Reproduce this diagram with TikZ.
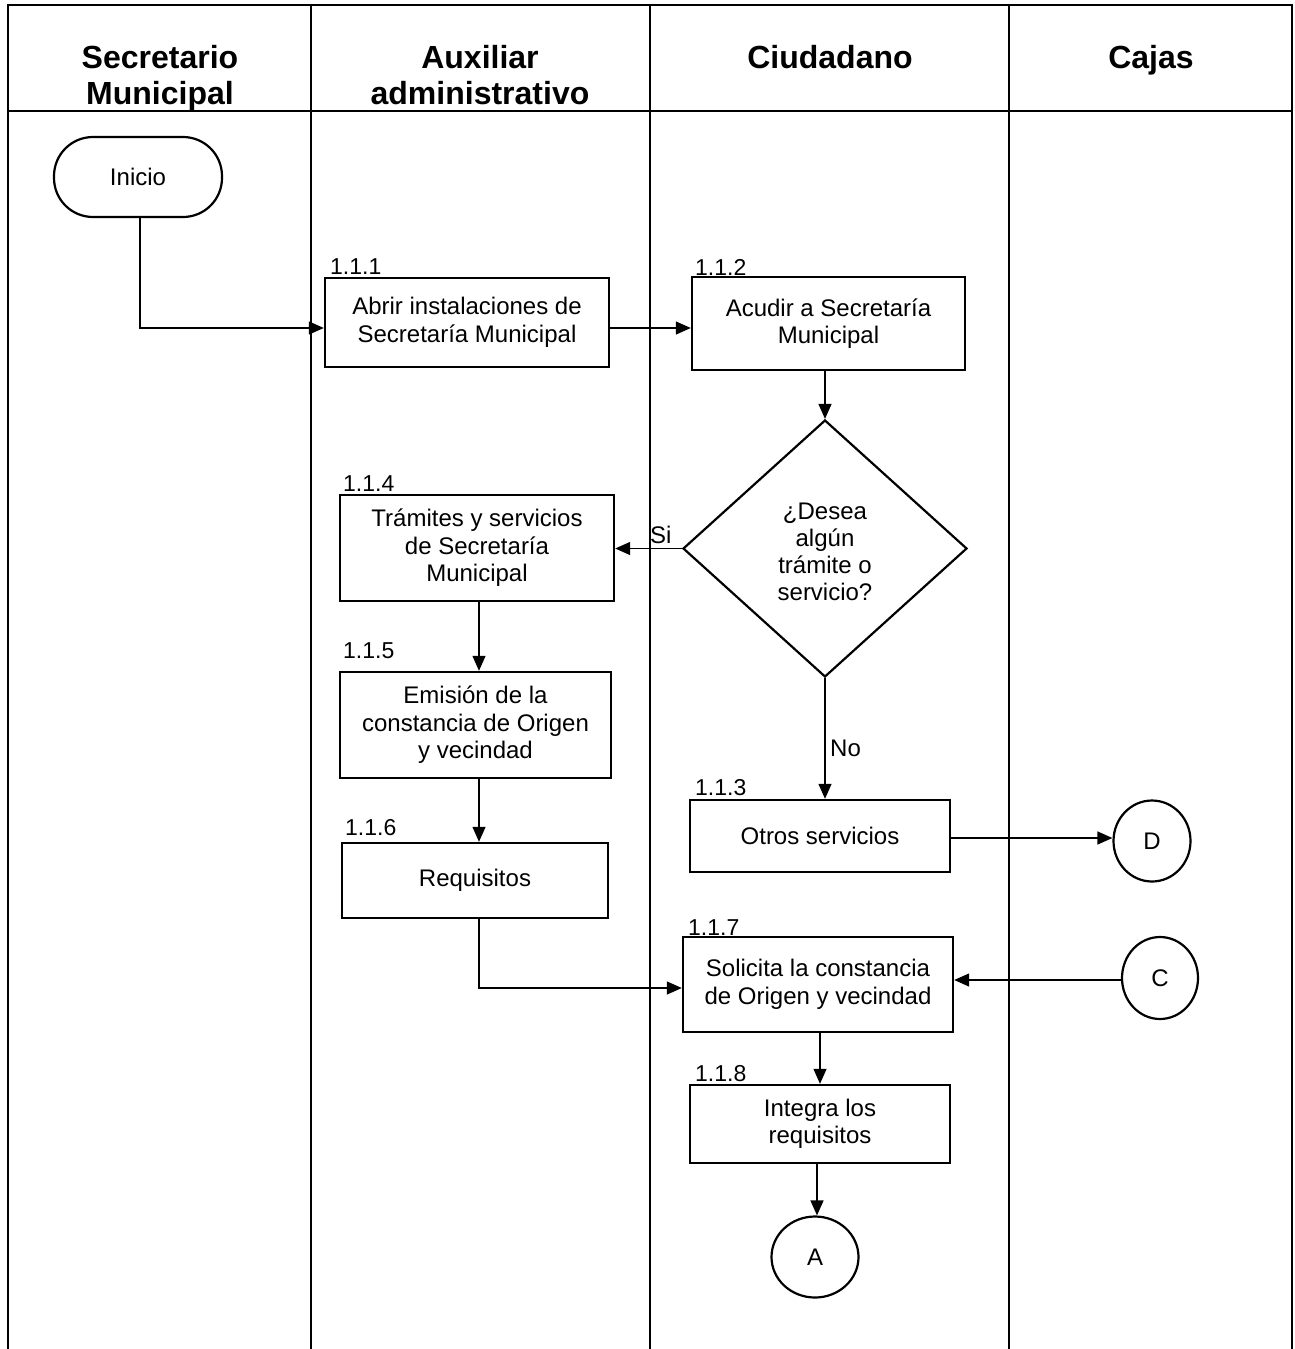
\documentclass[tikz,border=0pt]{standalone}
\usepackage{fontspec}
\setmainfont{Liberation Sans}
\usetikzlibrary{arrows.meta,calc,shapes.geometric}
\begin{document}
\begin{tikzpicture}[x=1pt,y=-1pt,
  frame/.style={line width=2.2pt},
  boxst/.style={draw,line width=2.4pt,rectangle,inner sep=0pt,align=center,
    font=\fontsize{24}{27.5}\selectfont},
  numlbl/.style={anchor=base west,inner sep=0pt,font=\fontsize{23}{26}\selectfont},
  head/.style={align=center,anchor=north,inner sep=0pt,font=\fontsize{32}{36}\bfseries\selectfont},
  conn/.style={line width=1.3pt},
  arr/.style={conn,-{Triangle[length=15pt,width=13pt]}},
  circ/.style={draw,ellipse,line width=2.2pt,inner sep=0pt,font=\fontsize{24}{27}\selectfont},
  txt/.style={inner sep=0pt,font=\fontsize{24}{27}\selectfont}
]
\useasboundingbox (0,0) rectangle (1294,1349);
% frame
\draw[frame] (8,1349) -- (8,5) -- (1292,5) -- (1292,1349);
\draw[frame] (8,111) -- (1292,111);
\foreach \x in {311,650,1009} \draw[frame] (\x,5) -- (\x,1349);
% headers
\node[head] (h1) at (160,43.5) {\strut Secretario\\\strut Municipal};
\node[head] (h2) at (480,43.5) {\strut Auxiliar\\\strut administrativo};
\node[head] (h3) at (830,43.5) {\strut Ciudadano};
\node[head] (h4) at (1151,43.5) {\strut Cajas};
% start
\node[draw,line width=2.2pt,rounded corners=39pt,minimum width=168pt,minimum height=80pt,
  inner sep=0pt,font=\fontsize{24}{27}\selectfont] (ini) at (138,177) {Inicio};
% boxes
\node[boxst,minimum width=284pt,minimum height=89pt] (b1) at (467,322.5) {Abrir instalaciones de\\Secretaría Municipal};
\node[boxst,minimum width=273pt,minimum height=93pt] (b2) at (828.5,323.5) {Acudir a Secretaría\\Municipal};
\node[draw,diamond,line width=2.2pt,minimum width=284pt,minimum height=257pt,inner sep=0pt] (dia) at (825,548.5) {};
\node[txt,align=center] (dt) at (825,552) {¿Desea\\algún\\trámite o\\servicio?};
\node[boxst,minimum width=274pt,minimum height=106pt] (b4) at (477,548) {Trámites y servicios\\de Secretaría\\Municipal};
\node[boxst,minimum width=271pt,minimum height=106pt] (b5) at (475.5,725) {Emisión de la\\constancia de Origen\\y vecindad};
\node[boxst,minimum width=266pt,minimum height=75pt] (b6) at (475,880.5) {Requisitos};
\node[boxst,minimum width=260pt,minimum height=72pt] (b3) at (820,836) {Otros servicios};
\node[boxst,minimum width=270pt,minimum height=95pt] (b7) at (818,984.5) {Solicita la constancia\\de Origen y vecindad};
\node[boxst,minimum width=260pt,minimum height=78pt] (b8) at (820,1124) {Integra los\\requisitos};
% connectors circles
\node[circ,minimum width=77pt,minimum height=81pt] (D) at (1152,841) {D};
\node[circ,minimum width=76pt,minimum height=82pt] (C) at (1160,978) {C};
\node[circ,minimum width=87pt,minimum height=81pt] (A) at (815,1257) {A};
% number labels
\node[numlbl] (n1) at (330,274) {1.1.1};
\node[numlbl] (n2) at (695,275) {1.1.2};
\node[numlbl] (n4) at (343,491) {1.1.4};
\node[numlbl] (n5) at (343,658) {1.1.5};
\node[numlbl] (n6) at (345,835) {1.1.6};
\node[numlbl] (n3) at (695,795) {1.1.3};
\node[numlbl] (n7) at (688,935) {1.1.7};
\node[numlbl] (n8) at (695,1081) {1.1.8};
% helper coordinates
\coordinate (ya) at (0,328);
\coordinate (xb) at (479,0);
\coordinate (yd) at (0,838);
\coordinate (ye) at (0,980);
\coordinate (yr) at (0,988);
\coordinate (xf) at (820,0);
\coordinate (xg) at (817,0);
% connectors
\draw[arr] (ini.south -| 140,0) |- (b1.west |- ya);
\draw[arr] (b1.east |- ya) -- (b2.west |- ya);
\draw[arr] (dia.north |- b2.south) -- (dia.north);
\draw[arr] (dia.west) -- (b4.east |- dia.west);
\node[txt,anchor=base west] (si) at (650,543) {Si};
\draw[arr] (b4.south -| xb) -- (b5.north -| xb);
\draw[arr] (b5.south -| xb) -- (b6.north -| xb);
\draw[arr] (dia.south) -- (b3.north -| dia.south);
\node[txt,anchor=base west] (no) at (830,756) {No};
\draw[arr] (b3.east |- yd) -- (D.west |- yd);
\draw[arr] (b6.south -| xb) |- (b7.west |- yr);
\draw[arr] (C.west |- ye) -- (b7.east |- ye);
\draw[arr] (b7.south -| xf) -- (b8.north -| xf);
\draw[arr] (b8.south -| xg) -- (A.north -| xg);
\end{tikzpicture}
\end{document}
